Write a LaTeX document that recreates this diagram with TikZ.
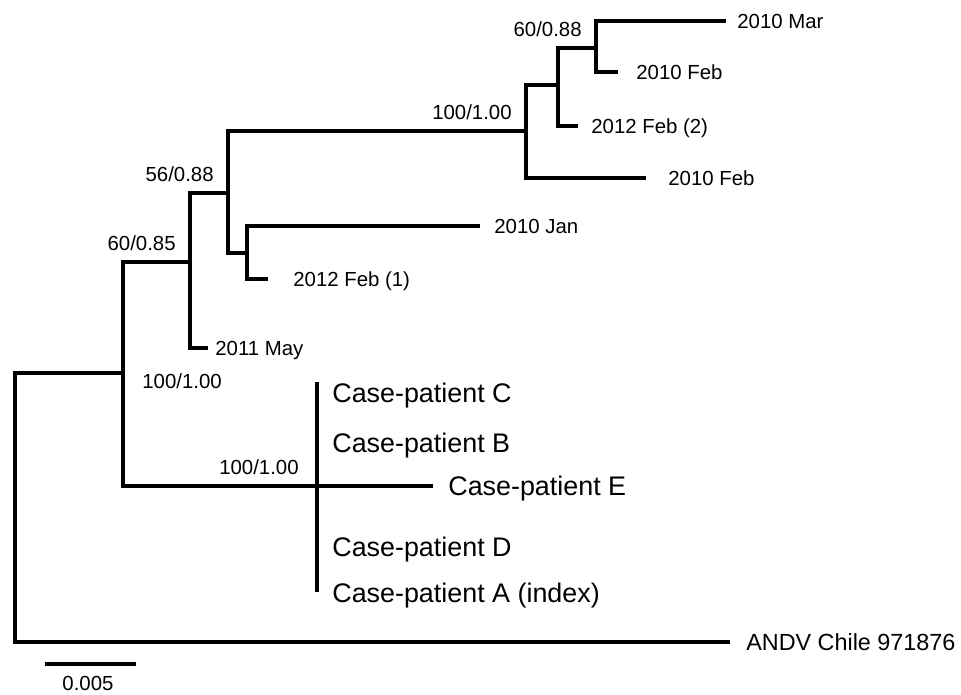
\documentclass[tikz,border=0pt]{standalone}
\usepackage{fontspec}
\setmainfont{Liberation Sans}
\usepackage{tikz}
\usetikzlibrary{positioning}

\begin{document}
\begin{tikzpicture}[x=0.02cm,y=-0.02cm,
  branch/.style={line width=2.2pt},
  leaf/.style={anchor=west,inner sep=0pt,font=\fontsize{11.6}{13}\selectfont,text height=8.3pt,text depth=0pt},
  boot/.style={leaf,anchor=east},
  casename/.style={leaf,font=\fontsize{15.3}{18}\selectfont,text height=11pt}]
  \useasboundingbox (0,0) rectangle (961,694);
  % internal nodes of the tree
  \coordinate (root) at (15,507);
  \coordinate (a) at (123,373);
  \coordinate (b) at (190,262);
  \coordinate (c) at (228,193);
  \coordinate (d) at (526,131);
  \coordinate (g) at (558,85);
  \coordinate (h) at (596,48);
  \coordinate (f) at (247,253);
  \coordinate (e) at (317,486);
  \coordinate (eTop) at (317,382);
  \coordinate (eBot) at (317,592);
  % leaves: end of branch and label
  \foreach \n/\x/\y/\tx/\t in {mar/726/21/737/2010 Mar,febT/618/72/636/2010 Feb,feb2/578/126/591/2012 Feb (2),febB/646/178/668/2010 Feb,jan/480/226/494/2010 Jan,feb1/268/279/293/2012 Feb (1),may/208/348/215/2011 May}
    {\coordinate (\n) at (\x,\y); \node[leaf] (\n-lab) at (\tx,\y) {\t};}
  \coordinate (caseE) at (433,486);
  \coordinate (andv) at (730,642);
  \foreach \n/\y/\t in {C/393/C,B/443/B,D/547/D,A/593/A (index)} \node[casename] (case\n) at (332,\y) {Case-patient \t};
  \node[casename] (caseE-lab) at (448,486) {Case-patient E};
  \node[leaf,font=\fontsize{13.3}{16}\selectfont,text height=9.5pt] (andv-lab) at (746,642) {ANDV Chile 971876};
  % branches
  \draw[branch] (root) |- (a); \draw[branch] (root) |- (andv);
  \draw[branch] (a) |- (b); \draw[branch] (a) |- (e);
  \draw[branch] (b) |- (c); \draw[branch] (b) |- (may);
  \draw[branch] (c) |- (d); \draw[branch] (c) |- (f);
  \draw[branch] (d) |- (g); \draw[branch] (d) |- (febB);
  \draw[branch] (g) |- (h); \draw[branch] (g) |- (feb2);
  \draw[branch] (h) |- (mar); \draw[branch] (h) |- (febT);
  \draw[branch] (f) |- (jan); \draw[branch] (f) |- (feb1);
  \draw[branch] (e) -- (caseE); \draw[branch] (eTop) -- (eBot);
  % support values
  \node[boot] (bs-b) at (176,243) {60/0.85};
  \node[boot] (bs-c) at (214,174) {56/0.88};
  \node[boot] (bs-d) at (512,112) {100/1.00};
  \node[boot] (bs-h) at (582,29) {60/0.88};
  \node[boot] (bs-e) at (299,467) {100/1.00};
  \node[leaf] (bs-a) at (142,381) {100/1.00};
  % scale bar
  \coordinate (sb-l) at (45,664); \coordinate (sb-r) at (136,664);
  \draw[branch] (sb-l) -- (sb-r);
  \node[leaf,anchor=center,font=\fontsize{11.6}{13}\selectfont] (sb-lab) at (88,683) {0.005};
\end{tikzpicture}
\end{document}
